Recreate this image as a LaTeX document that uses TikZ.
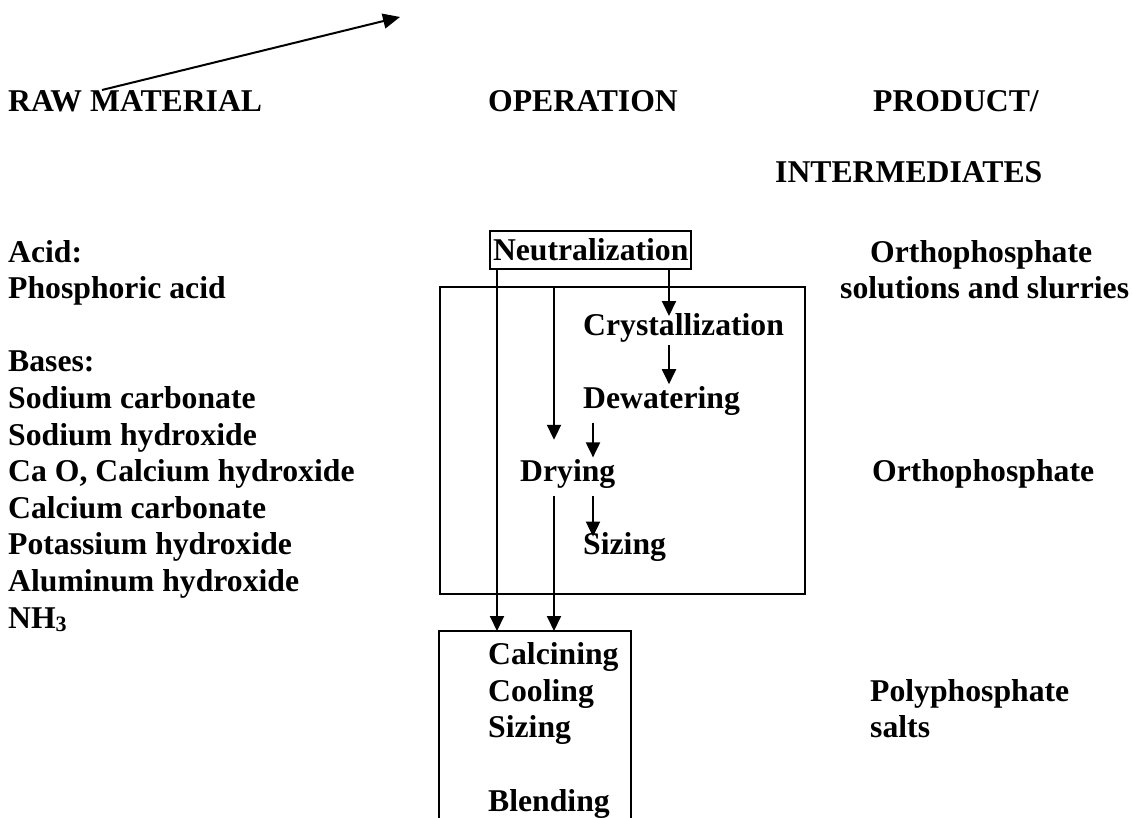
\documentclass[tikz,border=0pt]{standalone}
\usepackage{fontspec}
\setmainfont{Liberation Serif}
\usetikzlibrary{arrows.meta}

\begin{document}
\begin{tikzpicture}[x=1pt,y=-1pt]
  \tikzset{lbl/.style = {anchor=base west, inner sep=0pt, font=\fontsize{31.7}{36.6}\selectfont\bfseries}}
  \tikzset{stepnode/.style = {lbl, text height=24pt, text depth=14pt}}
  \tikzset{arr/.style = {-{Triangle[length=15pt,width=14pt]}, line width=2pt}}
  \tikzset{grp/.style = {draw, line width=2pt}}

  \useasboundingbox (0,0) rectangle (1132,818);

  \node[lbl] (raw) at (8,112) {RAW MATERIAL};
  \node[lbl] (oper) at (488,112) {OPERATION};
  \node[lbl] (prod) at (873,112) {PRODUCT/};
  \node[lbl] (inter) at (775,183) {INTERMEDIATES};

  \foreach \name/\txt/\row in {acid/Acid:/0, phos/Phosphoric acid/1, bases/Bases:/3,
      naco/Sodium carbonate/4, naoh/Sodium hydroxide/5, caoh/{Ca O, Calcium hydroxide}/6,
      caco/Calcium carbonate/7, koh/Potassium hydroxide/8, aloh/Aluminum hydroxide/9,
      nh/{NH\raisebox{-3.5pt}{\fontsize{22}{22}\selectfont 3}}/10}
    \node[lbl] (\name) at (8,262+36.6*\row) {\txt};

  \node[lbl] (ortho1) at (870,262) {Orthophosphate};
  \node[lbl] (slur) at (840,298.6) {solutions and slurries};
  \node[lbl] (ortho2) at (872,481.6) {Orthophosphate};
  \node[lbl] (poly) at (870,701.2) {Polyphosphate};
  \node[lbl] (salts) at (870,737.8) {salts};

  \node[lbl, draw, line width=2pt, inner xsep=3pt, inner ysep=2pt, text height=28pt, text depth=6pt] (neut) at (489,261) {Neutralization};
  \node[grp, anchor=north west, minimum width=365pt, minimum height=307pt] (dbox) at (439,286) {};
  \node[stepnode] (cryst) at (583,335.2) {Crystallization};
  \node[stepnode] (dew) at (583,408.4) {Dewatering};
  \node[stepnode] (dry) at (520,481.6) {Drying};
  \node[stepnode] (siz) at (583,554.8) {Sizing};

  \coordinate (pbox) at (439,631);
  \coordinate (pboxr) at (631,631);
  \draw[grp] (pbox) ++(0,187) -- (pbox) -- (pboxr) -- ++(0,187);
  \foreach \name/\txt/\y in {calc/Calcining/664.6, cool/Cooling/701.2, siz2/Sizing/737.8, blend/Blending/811}
    \node[lbl] (\name) at (488,\y) {\txt};

  \coordinate (xa) at (497,0);
  \coordinate (xb) at (554,0);
  \coordinate (xc) at (669,0);
  \coordinate (xd) at (593,0);
  \draw[arr] (neut.south -| xa) -- (xa |- pbox);
  \draw[arr, shorten >=-5pt] (neut.south -| xc) -- (xc |- cryst.north);
  \draw[arr, shorten <=-4pt] (cryst.south -| xc) -- (xc |- dew.north);
  \draw[arr] (dew.south -| xd) -- (xd |- dry.north);
  \draw[arr, shorten >=-6pt] (dry.south -| xd) -- (xd |- siz.north);
  \draw[arr, shorten >=17.6pt] (dbox.north -| xb) -- (xb |- dry.north);
  \draw[arr] (dry.south -| xb) -- (xb |- pbox);

  \coordinate (tailpt) at (102,90);
  \coordinate (headpt) at (400,17);
  \draw[line width=2pt, -{Triangle[length=17pt,width=15pt]}] (tailpt) -- (headpt);
\end{tikzpicture}
\end{document}
